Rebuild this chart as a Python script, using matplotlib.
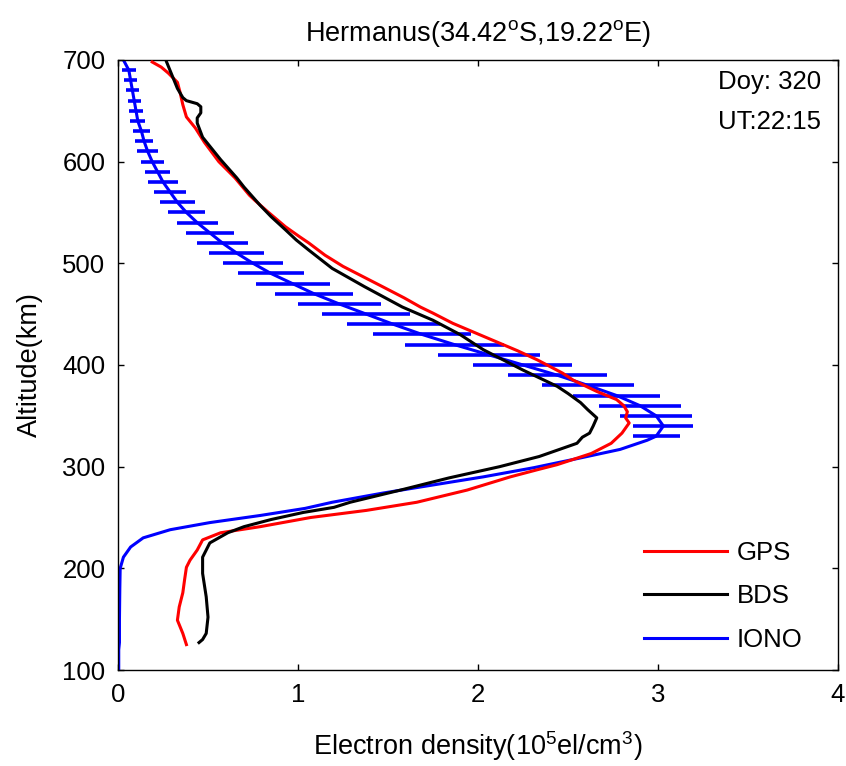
import numpy as np
import matplotlib
matplotlib.use("Agg")
import matplotlib.pyplot as plt

plt.rcParams['font.family'] = ['Liberation Sans', 'DejaVu Sans']
plt.rcParams['mathtext.fontset'] = 'custom'
plt.rcParams['mathtext.rm'] = 'Liberation Sans'
plt.rcParams['mathtext.it'] = 'Liberation Sans'

# GPS-derived profile (altitude km, density 1e5 el/cm^3)
gps_alt = [698, 693, 687, 678, 668, 656, 644, 633, 619, 600, 584, 567, 562, 551,
           536, 526, 520, 508, 497, 487, 477, 466, 457, 451, 441, 432, 423, 414,
           405, 392, 385, 374, 366, 360, 354, 348, 343, 338, 333, 323, 313, 302,
           297, 290, 277, 265, 257, 250, 241, 235, 228, 218, 208, 201, 189, 176,
           162, 149, 136, 125]
gps_ne = [0.19, 0.24, 0.28, 0.33, 0.345, 0.36, 0.38, 0.43, 0.48, 0.56, 0.65, 0.73,
          0.76, 0.83, 0.93, 1.01, 1.06, 1.15, 1.25, 1.36, 1.47, 1.59, 1.68, 1.75,
          1.86, 1.98, 2.10, 2.22, 2.33, 2.47, 2.53, 2.66, 2.77, 2.81, 2.83, 2.82,
          2.84, 2.82, 2.80, 2.74, 2.63, 2.44, 2.33, 2.18, 1.94, 1.66, 1.38, 1.07,
          0.79, 0.57, 0.47, 0.44, 0.40, 0.38, 0.37, 0.36, 0.34, 0.33, 0.36, 0.38]

# BDS-derived profile
bds_alt = [698, 685, 672, 663, 660, 657, 654, 648, 643, 638, 624, 602, 584, 575,
           557, 546, 533, 523, 513, 495, 477, 457, 444, 430, 415, 405, 395, 379,
           372, 363, 356, 348, 340, 333, 329, 323, 310, 300, 289, 277, 265, 260,
           255, 248, 241, 235, 225, 211, 195, 172, 152, 136, 130, 127]
bds_ne = [0.27, 0.30, 0.33, 0.36, 0.38, 0.44, 0.46, 0.46, 0.44, 0.44, 0.47, 0.57,
          0.66, 0.70, 0.79, 0.85, 0.93, 0.99, 1.06, 1.19, 1.37, 1.58, 1.75, 1.90,
          2.03, 2.14, 2.25, 2.44, 2.50, 2.57, 2.61, 2.66, 2.64, 2.62, 2.58, 2.55,
          2.34, 2.12, 1.84, 1.57, 1.29, 1.20, 1.03, 0.85, 0.70, 0.61, 0.51, 0.47,
          0.47, 0.49, 0.50, 0.49, 0.47, 0.45]

# Ionosonde topside (with uncertainty) and bottomside
iono_top_alt = [690, 680, 670, 660, 650, 640, 630, 620, 610, 600, 590, 580, 570,
                560, 550, 540, 530, 520, 510, 500, 490, 480, 470, 460, 450, 440,
                430, 420, 410, 400, 390, 380, 370, 360, 350, 340, 330]
iono_top_ne = [0.06, 0.07, 0.08, 0.09, 0.10, 0.11, 0.13, 0.145, 0.165, 0.19, 0.22,
               0.25, 0.29, 0.33, 0.38, 0.44, 0.51, 0.58, 0.66, 0.75, 0.85, 0.97,
               1.09, 1.23, 1.38, 1.53, 1.69, 1.87, 2.06, 2.25, 2.44, 2.61, 2.77,
               2.90, 2.99, 3.03, 2.99]
iono_top_err = [0.04, 0.035, 0.035, 0.037, 0.04, 0.042, 0.045, 0.05, 0.058, 0.064,
                0.07, 0.083, 0.089, 0.095, 0.105, 0.115, 0.133, 0.142, 0.153,
                0.167, 0.183, 0.205, 0.217, 0.23, 0.245, 0.258, 0.272, 0.275,
                0.283, 0.275, 0.275, 0.256, 0.242, 0.228, 0.2, 0.167, 0.13]
iono_bot_alt = [326, 317, 309, 299, 290, 282, 274, 265, 259, 252, 245, 238, 230,
                221, 211, 200, 180, 150, 127, 120, 100]
iono_bot_ne = [2.94, 2.79, 2.58, 2.31, 2.03, 1.75, 1.47, 1.19, 1.04, 0.79, 0.51,
               0.29, 0.14, 0.07, 0.03, 0.012, 0.01, 0.008, 0.008, 0.004, 0.004]

iono_alt = [700] + iono_top_alt + iono_bot_alt
iono_ne = [0.03] + iono_top_ne + iono_bot_ne

fig = plt.figure(figsize=(8.46, 7.66), dpi=100)
ax = fig.add_axes([0.1395, 0.1253, 0.851, 0.7964])

lw = 2.2
ax.errorbar(iono_top_ne, iono_top_alt, xerr=iono_top_err, fmt='none',
            ecolor='#0000ff', elinewidth=2.6, capsize=0, zorder=1)
ax.plot(iono_ne, iono_alt, color='#0000ff', lw=lw, label='IONO', zorder=2)
ax.plot(gps_ne, gps_alt, color='#ff0000', lw=lw, label='GPS', zorder=3)
ax.plot(bds_ne, bds_alt, color='black', lw=lw, label='BDS', zorder=4)

ax.set_xlim(0, 4)
ax.set_ylim(100, 700)
ax.set_xticks([0, 1, 2, 3, 4])
ax.set_yticks([100, 200, 300, 400, 500, 600, 700])
ax.tick_params(direction='in', top=True, right=True, length=4.5, width=1,
               labelsize=18.5, pad=9)
for s in ax.spines.values():
    s.set_linewidth(1.0)

ax.set_xlabel('Electron density(10$^{5}$el/cm$^{3}$)', fontsize=19.5, labelpad=16)
ax.set_ylabel('Altitude(km)', fontsize=19.5, labelpad=14)
ax.set_title('Hermanus(34.42$^{\\rm o}$S,19.22$^{\\rm o}$E)', fontsize=19.5, pad=14)

ax.text(0.977, 0.983, 'Doy: 320\nUT:22:15', transform=ax.transAxes, ha='right',
        va='top', fontsize=18.5, linespacing=1.8)

h, l = ax.get_legend_handles_labels()
order = [1, 2, 0]
ax.legend([h[i] for i in order], [l[i] for i in order], loc='lower right',
          bbox_to_anchor=(0.983, -0.008), frameon=False, fontsize=18.5,
          handlelength=3.2, labelspacing=0.76, handletextpad=0.4,
          borderaxespad=0.5)

fig.savefig('out.png', dpi=100)
